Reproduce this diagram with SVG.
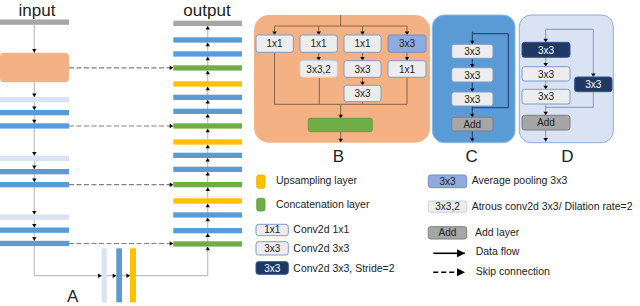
<svg xmlns="http://www.w3.org/2000/svg" xmlns:xlink="http://www.w3.org/1999/xlink" width="640" height="306" viewBox="0 0 640 306">
<defs>
<path id="ad" d="M-2.2,-3.6 L2.2,-3.6 L0,0 Z" fill="#000"/>
<path id="au" d="M-2.2,3.6 L2.2,3.6 L0,0 Z" fill="#000"/>
<path id="ar" d="M-3.6,-2.2 L-3.6,2.2 L0,0 Z" fill="#000"/>
<marker id="mk" viewBox="0 0 8 8" refX="8" refY="4" markerWidth="8" markerHeight="8" markerUnits="userSpaceOnUse" orient="auto"><path d="M0,0 L8,4 L0,8 Z" fill="#000"/></marker>
</defs>
<style>
text{font-family:"Liberation Sans",Arial,sans-serif;fill:#222}
.ttl{font-size:17px;text-anchor:middle}
.lbl{font-size:17px;text-anchor:middle}
.bt{font-size:10px;text-anchor:middle}
.wt{font-size:10px;text-anchor:middle;fill:#fff}
.lg{font-size:10.5px}
.gray{fill:#A6A6A6}
.blue{fill:#5B9BD5}
.lb{fill:#DAE3F3}
.green{fill:#70AD47}
.yel{fill:#FFC000}
.box{fill:#EDEDED;stroke:#7F9BC8;stroke-width:1}
.boxl{fill:#EDEDED;stroke:#BDD7EE;stroke-width:1}
.dark{fill:#203864;stroke:#2F5597;stroke-width:1}
.avg{fill:#8FAADC;stroke:#7290C8;stroke-width:1}
.add{fill:#A6A6A6;stroke:#7F7F7F;stroke-width:1}
.ln{fill:none;stroke:#BFBFBF;stroke-width:1.2}
.skip{fill:none;stroke:#808080;stroke-width:1.2;stroke-dasharray:5 2.5}
.lnB{fill:none;stroke:#86654F;stroke-width:1}
.lnC{fill:none;stroke:#1F3864;stroke-width:1}
.lnD{fill:none;stroke:#8497B0;stroke-width:1}
</style>

<text class="ttl" x="37" y="15.5">input</text>
<text class="ttl" x="207" y="15.5">output</text>

<g id="connectors">
<path class="ln" d="M34.3,25 V275.7 H207.7 V26"/>
<path class="skip" d="M69,67.8 H172"/>
<path class="skip" d="M69,126 H172"/>
<path class="skip" d="M69,184.7 H172"/>
<path class="skip" d="M69,243.5 H172"/>
<use href="#ar" x="173.3" y="67.8"/>
<use href="#ar" x="173.3" y="126"/>
<use href="#ar" x="173.3" y="184.7"/>
<use href="#ar" x="173.3" y="243.5"/>
<use href="#ad" x="34.3" y="52.7"/>
<use href="#ad" x="34.3" y="97"/>
<use href="#ad" x="34.3" y="110"/>
<use href="#ad" x="34.3" y="123.3"/>
<use href="#ad" x="34.3" y="155.7"/>
<use href="#ad" x="34.3" y="169"/>
<use href="#ad" x="34.3" y="182"/>
<use href="#ad" x="34.3" y="214.5"/>
<use href="#ad" x="34.3" y="227.5"/>
<use href="#ad" x="34.3" y="240.8"/>
<use href="#ar" x="101.7" y="275.7"/>
<use href="#ar" x="116.3" y="275.7"/>
<use href="#ar" x="130" y="275.7"/>
<use href="#au" x="207.7" y="26"/>
<use href="#au" x="207.7" y="42.7"/>
<use href="#au" x="207.7" y="56.7"/>
<use href="#au" x="207.7" y="70.7"/>
<use href="#au" x="207.7" y="86.7"/>
<use href="#au" x="207.7" y="100"/>
<use href="#au" x="207.7" y="114"/>
<use href="#au" x="207.7" y="128.7"/>
<use href="#au" x="207.7" y="144.7"/>
<use href="#au" x="207.7" y="158"/>
<use href="#au" x="207.7" y="172"/>
<use href="#au" x="207.7" y="187.3"/>
<use href="#au" x="207.7" y="203.7"/>
<use href="#au" x="207.7" y="217.7"/>
<use href="#au" x="207.7" y="233.3"/>
<use href="#au" x="207.7" y="246.7"/>
</g>

<g id="A-encoder">
<rect class="gray" x="0" y="19.5" width="69" height="5.3"/>
<rect x="0" y="52.7" width="69" height="29.6" rx="4" fill="#F4B183"/>
<rect class="lb" x="0" y="97" width="69" height="5.3"/>
<rect class="blue" x="0" y="110" width="69" height="5.3"/>
<rect class="blue" x="0" y="123.3" width="69" height="5.3"/>
<rect class="lb" x="0" y="155.7" width="69" height="5.3"/>
<rect class="blue" x="0" y="169" width="69" height="5.3"/>
<rect class="blue" x="0" y="182" width="69" height="5.3"/>
<rect class="lb" x="0" y="214.5" width="69" height="5.3"/>
<rect class="blue" x="0" y="227.5" width="69" height="5.3"/>
<rect class="blue" x="0" y="240.8" width="69" height="5.3"/>
</g>

<g id="A-bottleneck">
<rect class="lb" x="101.7" y="248.3" width="5" height="54"/>
<rect class="blue" x="116.3" y="248.3" width="5.7" height="54"/>
<rect class="yel" x="130" y="248.3" width="6" height="54"/>
</g>

<g id="A-decoder">
<rect class="gray" x="173.3" y="20.7" width="68.7" height="5.3"/>
<rect class="blue" x="173.3" y="37.3" width="68.7" height="5.3"/>
<rect class="blue" x="173.3" y="51.3" width="68.7" height="5.3"/>
<rect class="green" x="173.3" y="65.3" width="68.7" height="5.3"/>
<rect class="yel" x="173.3" y="81.3" width="68.7" height="5.3"/>
<rect class="blue" x="173.3" y="94.7" width="68.7" height="5.3"/>
<rect class="blue" x="173.3" y="108.7" width="68.7" height="5.3"/>
<rect class="green" x="173.3" y="123.3" width="68.7" height="5.3"/>
<rect class="yel" x="173.3" y="139.3" width="68.7" height="5.3"/>
<rect class="blue" x="173.3" y="152.7" width="68.7" height="5.3"/>
<rect class="blue" x="173.3" y="166.7" width="68.7" height="5.3"/>
<rect class="green" x="173.3" y="182" width="68.7" height="5.3"/>
<rect class="yel" x="173.3" y="198.3" width="68.7" height="5.3"/>
<rect class="blue" x="173.3" y="212.3" width="68.7" height="5.3"/>
<rect class="blue" x="173.3" y="228" width="68.7" height="5.3"/>
<rect class="green" x="173.3" y="241.3" width="68.7" height="5.3"/>
</g>
<text class="lbl" x="72.7" y="302">A</text>

<g id="B">
<rect x="254" y="15" width="176" height="127.7" rx="15" fill="#F4B183"/>
<path class="lnB" d="M340.7,15 V26 M274.5,26 H407 M274.5,26 V31.5 M318.7,26 V31.5 M362.5,26 V31.5 M407,26 V31.5"/>
<path class="lnB" d="M274.5,52.3 V104.3 M319.3,77.3 V104.3 M362.5,101.7 V104.3 M407,77.3 V104.3 M274.5,104.3 H407 M340.7,104.3 V115"/>
<path class="lnB" d="M318.7,52.3 V57 M362.5,52.3 V57 M407,52.3 V57 M362.5,77.3 V81.7 M340.7,131.7 V139"/>
<use href="#ad" x="274.5" y="35"/>
<use href="#ad" x="318.7" y="35"/>
<use href="#ad" x="362.5" y="35"/>
<use href="#ad" x="407" y="35"/>
<use href="#ad" x="318.7" y="60.7"/>
<use href="#ad" x="362.5" y="60.7"/>
<use href="#ad" x="407" y="60.7"/>
<use href="#ad" x="362.5" y="85.3"/>
<use href="#ad" x="340.7" y="118.3"/>
<use href="#ad" x="340.7" y="142.3"/>
<rect class="box" x="256" y="35" width="37.3" height="17.3" rx="2.5"/>
<text class="bt" x="274.6" y="47.3">1x1</text>
<rect class="box" x="300" y="35" width="37.3" height="17.3" rx="2.5"/>
<text class="bt" x="318.6" y="47.3">1x1</text>
<rect class="box" x="344" y="35" width="37" height="17.3" rx="2.5"/>
<text class="bt" x="362.5" y="47.3">1x1</text>
<rect class="avg" x="388" y="35" width="38" height="17.3" rx="2.5"/>
<text class="bt" x="407" y="47.3">3x3</text>
<rect class="boxl" x="300" y="60.7" width="37.3" height="16.6" rx="2.5"/>
<text class="bt" x="318.6" y="72.6">3x3,2</text>
<rect class="box" x="344" y="60.7" width="37" height="16.6" rx="2.5"/>
<text class="bt" x="362.5" y="72.6">3x3</text>
<rect class="box" x="388" y="60.7" width="38" height="16.6" rx="2.5"/>
<text class="bt" x="407" y="72.6">1x1</text>
<rect class="box" x="344" y="85.3" width="37" height="16.4" rx="2.5"/>
<text class="bt" x="362.5" y="97.1">3x3</text>
<rect x="308.3" y="118.3" width="64" height="13.4" rx="2" fill="#70AD47" stroke="#5E9B3A" stroke-width="0.8"/>
</g>
<text class="lbl" x="338.3" y="161.7">B</text>

<g id="C">
<rect x="432.3" y="15" width="82.7" height="127.7" rx="12" fill="#5B9BD5" stroke="#8FB8E0" stroke-width="1"/>
<path class="lnC" d="M472.3,31.7 V41 M472.3,33.7 H508.3 V107.7 H472.3 M472.3,58.3 V64 M472.3,82 V88.5 M472.3,106 V114 M472.3,131 V138.3"/>
<use href="#ad" x="472.3" y="44.3"/>
<use href="#ad" x="472.3" y="67.7"/>
<use href="#ad" x="472.3" y="92"/>
<use href="#ad" x="472.3" y="117.3"/>
<use href="#ad" x="472.3" y="141.7"/>
<rect class="box" x="451.7" y="44.3" width="41.3" height="14" rx="2.5"/>
<text class="bt" x="472.3" y="55">3x3</text>
<rect class="box" x="451.7" y="67.7" width="41.3" height="14.3" rx="2.5"/>
<text class="bt" x="472.3" y="78.5">3x3</text>
<rect class="box" x="451.7" y="92" width="41.3" height="14" rx="2.5"/>
<text class="bt" x="472.3" y="102.7">3x3</text>
<rect class="add" x="451.7" y="117.3" width="41.3" height="13.7" rx="2.5"/>
<text class="bt" x="472.3" y="127.9">Add</text>
</g>
<text class="lbl" x="471.7" y="161.7">C</text>

<g id="D">
<rect x="519.3" y="15" width="94" height="127.7" rx="12" fill="#DAE3F3" stroke="#8FAADC" stroke-width="1"/>
<path class="lnD" d="M545.7,29.3 V39 M545.7,29.3 H593.3 V73.5 M593.3,91.7 V107.3 H545.7 M545.7,57.3 V63 M545.7,81 V86 M545.7,104 V112 M545.7,130 V138.3"/>
<use href="#ad" x="545.7" y="42.3"/>
<use href="#ad" x="545.7" y="66.7"/>
<use href="#ad" x="545.7" y="89.3"/>
<use href="#ad" x="545.7" y="115.3"/>
<use href="#ad" x="545.7" y="141.7"/>
<use href="#ad" x="593.3" y="77"/>
<rect class="dark" x="522" y="42.3" width="48" height="15" rx="2.5"/>
<text class="wt" x="546" y="53.5">3x3</text>
<rect class="box" x="522" y="66.7" width="48" height="14.3" rx="2.5"/>
<text class="bt" x="546" y="77.5">3x3</text>
<rect class="box" x="522" y="89.3" width="48" height="14.7" rx="2.5"/>
<text class="bt" x="546" y="100.3">3x3</text>
<rect class="add" x="522" y="115.3" width="48" height="14.7" rx="2.5"/>
<text class="bt" x="546" y="126.3">Add</text>
<rect class="dark" x="574.7" y="77" width="37.3" height="14.7" rx="2.5"/>
<text class="wt" x="593.3" y="88">3x3</text>
</g>
<text class="lbl" x="567.3" y="161.7">D</text>

<g id="legend">
<rect x="256.7" y="175" width="8.3" height="13.3" rx="2" fill="#FFC000" stroke="#E6A800" stroke-width="0.8"/>
<text class="lg" x="276" y="184.3">Upsampling layer</text>
<rect x="256.7" y="198.3" width="8.3" height="12.7" rx="2" fill="#70AD47" stroke="#5E9B3A" stroke-width="0.8"/>
<text class="lg" x="276" y="207.6">Concatenation layer</text>
<rect class="box" x="256" y="224.3" width="32.3" height="11.4" rx="2.5"/>
<text class="bt" x="272.2" y="233.4">1x1</text>
<text class="lg" x="293.3" y="232.6">Conv2d 1x1</text>
<rect class="box" x="256" y="241.7" width="32.3" height="13.3" rx="2.5"/>
<text class="bt" x="272.2" y="251.8">3x3</text>
<text class="lg" x="293.3" y="251.6">Conv2d 3x3</text>
<rect class="dark" x="256" y="261.7" width="32.3" height="12.6" rx="2.5"/>
<text class="wt" x="272.2" y="271.6">3x3</text>
<text class="lg" x="293.3" y="271.6">Conv2d 3x3, Stride=2</text>

<rect class="avg" x="428.3" y="175" width="38.4" height="12.7" rx="2.5"/>
<text class="bt" x="447.5" y="184.8">3x3</text>
<text class="lg" x="471.7" y="184.3">Average pooling 3x3</text>
<rect class="boxl" x="428.3" y="201" width="38.4" height="11.3" rx="2.5"/>
<text class="bt" x="447.5" y="210.2">3x3,2</text>
<text class="lg" x="471.7" y="210.3">Atrous conv2d 3x3/ Dilation rate=2</text>
<rect class="add" x="428.3" y="226.7" width="38.4" height="12.3" rx="2.5"/>
<text class="bt" x="447.5" y="236.4">Add</text>
<text class="lg" x="475" y="236.3">Add layer</text>
<path d="M433.3,253.3 H465" stroke="#000" stroke-width="1.6" marker-end="url(#mk)"/>
<text class="lg" x="475.7" y="254.6">Data flow</text>
<path d="M433.3,272.3 H465" stroke="#000" stroke-width="1.6" stroke-dasharray="5 3" marker-end="url(#mk)"/>
<text class="lg" x="475.7" y="275.2">Skip connection</text>
</g>
</svg>
